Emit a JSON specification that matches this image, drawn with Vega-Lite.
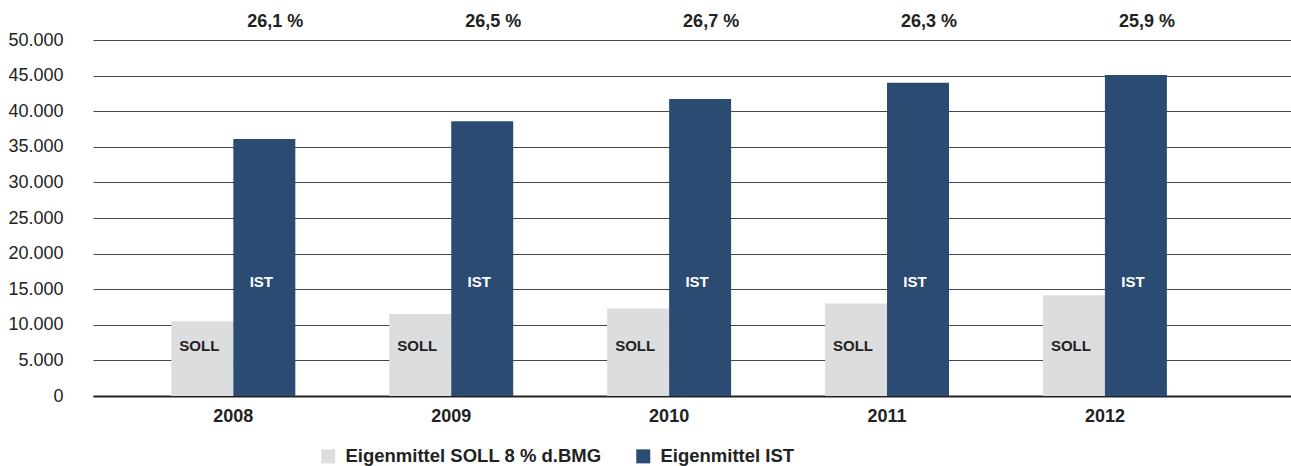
{
  "$schema": "https://vega.github.io/schema/vega-lite/v6.json",
  "width": 1198,
  "height": 356,
  "autosize": "none",
  "padding": {"left": 93, "top": 40, "right": 0, "bottom": 70},
  "background": "white",
  "config": {
    "view": {"stroke": null},
    "font": "Liberation Sans",
    "axis": {"labelFont": "Liberation Sans", "titleFont": "Liberation Sans"},
    "axisY": {
      "title": null,
      "tickCount": 12,
      "labelOverlap": false,
      "labelFontSize": 18,
      "labelColor": "#222222",
      "labelPadding": 30,
      "ticks": false,
      "domain": false,
      "grid": true,
      "gridColor": "#474747",
      "gridWidth": 1
    },
    "legend": {"labelFont": "Liberation Sans"}
  },
  "data": {
    "values": [
      {"Jahr": "2008", "Kategorie": "Eigenmittel SOLL 8 % d.BMG", "kurz": "SOLL", "Wert": 10500, "pct": ""},
      {"Jahr": "2008", "Kategorie": "Eigenmittel IST", "kurz": "IST", "Wert": 36100, "pct": "26,1 %"},
      {"Jahr": "2009", "Kategorie": "Eigenmittel SOLL 8 % d.BMG", "kurz": "SOLL", "Wert": 11500, "pct": ""},
      {"Jahr": "2009", "Kategorie": "Eigenmittel IST", "kurz": "IST", "Wert": 38600, "pct": "26,5 %"},
      {"Jahr": "2010", "Kategorie": "Eigenmittel SOLL 8 % d.BMG", "kurz": "SOLL", "Wert": 12300, "pct": ""},
      {"Jahr": "2010", "Kategorie": "Eigenmittel IST", "kurz": "IST", "Wert": 41700, "pct": "26,7 %"},
      {"Jahr": "2011", "Kategorie": "Eigenmittel SOLL 8 % d.BMG", "kurz": "SOLL", "Wert": 13000, "pct": ""},
      {"Jahr": "2011", "Kategorie": "Eigenmittel IST", "kurz": "IST", "Wert": 44000, "pct": "26,3 %"},
      {"Jahr": "2012", "Kategorie": "Eigenmittel SOLL 8 % d.BMG", "kurz": "SOLL", "Wert": 14150, "pct": ""},
      {"Jahr": "2012", "Kategorie": "Eigenmittel IST", "kurz": "IST", "Wert": 45100, "pct": "25,9 %"}
    ]
  },
  "encoding": {
    "x": {
      "field": "Jahr",
      "type": "nominal",
      "scale": {"paddingInner": 0.431, "paddingOuter": 0.4645, "align": 0.387},
      "axis": {
        "title": null,
        "labelAngle": 0,
        "labelFontSize": 18,
        "labelFontWeight": "bold",
        "labelColor": "#222222",
        "labelPadding": 11,
        "ticks": false,
        "grid": false,
        "domain": true,
        "domainColor": "#222222",
        "domainWidth": 2
      }
    },
    "xOffset": {
      "field": "Kategorie",
      "type": "nominal",
      "sort": ["Eigenmittel SOLL 8 % d.BMG", "Eigenmittel IST"],
      "scale": {"paddingInner": 0, "paddingOuter": 0}
    }
  },
  "layer": [
    {
      "mark": {"type": "bar"},
      "encoding": {
        "y": {
          "field": "Wert",
          "type": "quantitative",
          "scale": {"domain": [0, 50000], "nice": false},
          "axis": {
            "values": [0, 5000, 10000, 15000, 20000, 25000, 30000, 35000, 40000, 45000, 50000],
            "tickCount": 12,
            "labelExpr": "replace(format(datum.value, ','), ',', '.')"
          }
        },
        "color": {
          "field": "Kategorie",
          "type": "nominal",
          "sort": ["Eigenmittel SOLL 8 % d.BMG", "Eigenmittel IST"],
          "scale": {"range": ["#dcdddf", "#2b4b73"]},
          "legend": {
            "title": null,
            "orient": "none",
            "direction": "horizontal",
            "legendX": 226,
            "legendY": 407,
            "padding": 0,
            "symbolType": "square",
            "symbolSize": 196,
            "symbolStrokeWidth": 0,
            "labelFontSize": 18.5,
            "labelFontWeight": "bold",
            "labelColor": "#222222",
            "labelOffset": 8,
            "columnPadding": 32,
            "labelLimit": 400
          }
        }
      }
    },
    {
      "transform": [{"filter": "datum.kurz == 'SOLL'"}],
      "mark": {"type": "text", "fontSize": 15, "fontWeight": "bold", "color": "#222222", "baseline": "middle", "dx": -3},
      "encoding": {
        "y": {"datum": 7000, "type": "quantitative"},
        "text": {"field": "kurz"}
      }
    },
    {
      "transform": [{"filter": "datum.kurz == 'IST'"}],
      "mark": {"type": "text", "fontSize": 15, "fontWeight": "bold", "color": "#ffffff", "baseline": "middle", "dx": -3},
      "encoding": {
        "y": {"datum": 16000, "type": "quantitative"},
        "text": {"field": "kurz"}
      }
    },
    {
      "transform": [{"filter": "datum.kurz == 'IST'"}],
      "mark": {"type": "text", "fontSize": 18, "fontWeight": "bold", "color": "#222222", "baseline": "middle", "dx": 11},
      "encoding": {
        "y": {"datum": 52500, "type": "quantitative"},
        "text": {"field": "pct"}
      }
    }
  ]
}
